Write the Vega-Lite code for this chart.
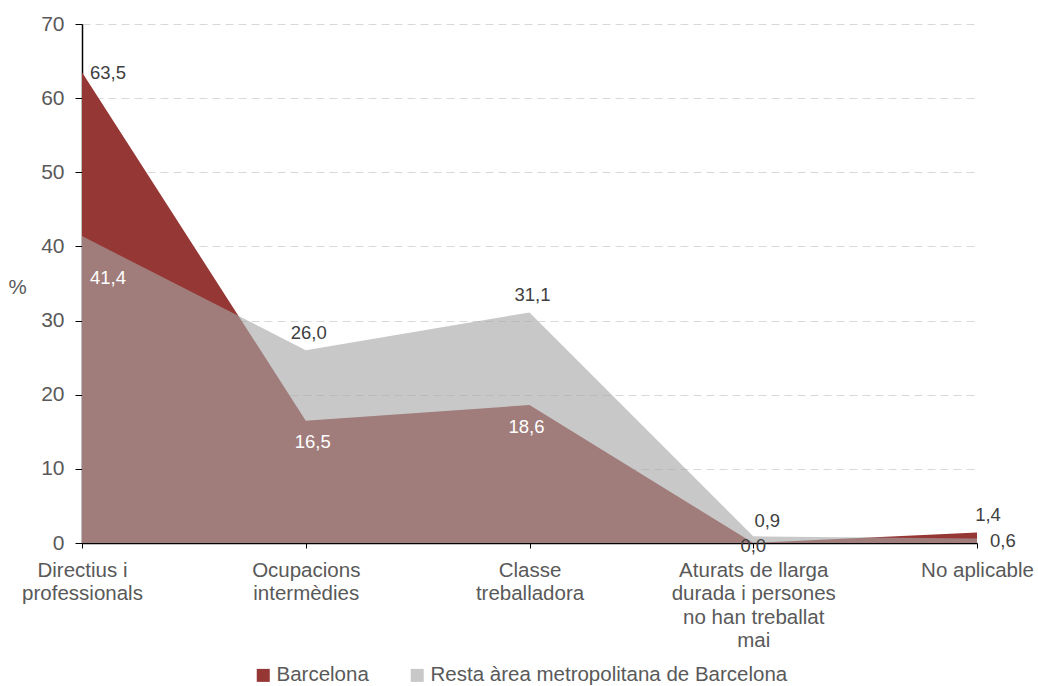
{
  "$schema": "https://vega.github.io/schema/vega-lite/v6.json",
  "width": 895,
  "height": 519,
  "autosize": {"type": "none"},
  "padding": {"left": 82, "top": 24, "right": 61, "bottom": 143},
  "config": {
    "font": "Liberation Sans",
    "view": {"stroke": null},
    "locale": {"number": {"decimal": ",", "thousands": ".", "grouping": [3], "currency": ["", " €"]}}
  },
  "data": {
    "values": [
      {"cat": "Directius i professionals", "serie": "Barcelona", "valor": 63.5},
      {"cat": "Ocupacions intermèdies", "serie": "Barcelona", "valor": 16.5},
      {"cat": "Classe treballadora", "serie": "Barcelona", "valor": 18.6},
      {"cat": "Aturats de llarga durada i persones no han treballat mai", "serie": "Barcelona", "valor": 0.0},
      {"cat": "No aplicable", "serie": "Barcelona", "valor": 1.4},
      {"cat": "Directius i professionals", "serie": "Resta àrea metropolitana de Barcelona", "valor": 41.4},
      {"cat": "Ocupacions intermèdies", "serie": "Resta àrea metropolitana de Barcelona", "valor": 26.0},
      {"cat": "Classe treballadora", "serie": "Resta àrea metropolitana de Barcelona", "valor": 31.1},
      {"cat": "Aturats de llarga durada i persones no han treballat mai", "serie": "Resta àrea metropolitana de Barcelona", "valor": 0.9},
      {"cat": "No aplicable", "serie": "Resta àrea metropolitana de Barcelona", "valor": 0.6}
    ]
  },
  "encoding": {
    "x": {
      "field": "cat", "type": "nominal", "sort": null,
      "scale": {"type": "point", "padding": 0},
      "axis": {
        "title": null, "labelAngle": 0, "labelFontSize": 20.5, "labelColor": "#595959",
        "labelLineHeight": 23.6, "labelLimit": 300, "labelOverlap": false, "labelPadding": 12,
        "domainColor": "#000000", "domainWidth": 1.5, "tickColor": "#000000", "tickSize": 5,
        "grid": false,
        "labelExpr": "datum.value == 'Directius i professionals' ? ['Directius i','professionals'] : datum.value == 'Ocupacions intermèdies' ? ['Ocupacions','intermèdies'] : datum.value == 'Classe treballadora' ? ['Classe','treballadora'] : datum.value == 'Aturats de llarga durada i persones no han treballat mai' ? ['Aturats de llarga','durada i persones','no han treballat','mai'] : datum.value"
      }
    },
    "y": {
      "field": "valor", "type": "quantitative", "stack": null,
      "scale": {"domain": [0, 70], "nice": false},
      "axis": {
        "title": "%", "titleAngle": 0, "titleFontSize": 20.5, "titleFontWeight": "normal", "titleColor": "#595959",
        "titleX": -65, "titleY": 263, "titleAlign": "center", "titleBaseline": "middle",
        "values": [0, 10, 20, 30, 40, 50, 60, 70],
        "labelFontSize": 21, "labelColor": "#595959", "labelPadding": 11,
        "domainColor": "#000000", "domainWidth": 1.5, "tickColor": "#000000", "tickSize": 7,
        "gridColor": "#D9D9D9", "gridDash": [8, 5], "gridWidth": 1
      }
    }
  },
  "layer": [
    {
      "mark": {"type": "area", "interpolate": "linear"},
      "encoding": {
        "color": {
          "field": "serie", "type": "nominal",
          "scale": {"domain": ["Barcelona", "Resta àrea metropolitana de Barcelona"], "range": ["#953735", "#A7A7A7"]},
          "legend": {
            "title": null, "orient": "none", "direction": "horizontal", "legendX": 171, "legendY": 641,
            "symbolType": "square", "symbolSize": 169, "symbolStrokeWidth": 0,
            "labelFontSize": 20.5, "labelColor": "#595959", "labelOffset": 3, "columnPadding": 38, "labelLimit": 500
          }
        },
        "opacity": {
          "field": "serie", "type": "nominal",
          "scale": {"domain": ["Barcelona", "Resta àrea metropolitana de Barcelona"], "range": [1, 0.62]},
          "legend": null
        },
        "order": {"field": "serie"}
      }
    },
    {
      "transform": [{"filter": "datum.serie == 'Barcelona' && datum.cat == 'Directius i professionals'"}],
      "mark": {"type": "text", "align": "left", "baseline": "middle", "dx": 8, "dy": 1, "fontSize": 18.5, "color": "#404040"},
      "encoding": {"text": {"field": "valor", "type": "quantitative", "format": ".1f"}}
    },
    {
      "transform": [{"filter": "datum.serie != 'Barcelona' && datum.cat == 'Directius i professionals'"}],
      "mark": {"type": "text", "align": "left", "baseline": "middle", "dx": 8, "dy": 42, "fontSize": 18.5, "color": "#FFFFFF"},
      "encoding": {"text": {"field": "valor", "type": "quantitative", "format": ".1f"}}
    },
    {
      "transform": [{"filter": "datum.serie == 'Barcelona' && datum.cat == 'Ocupacions intermèdies'"}],
      "mark": {"type": "text", "align": "center", "baseline": "middle", "dx": 7, "dy": 21, "fontSize": 18.5, "color": "#FFFFFF"},
      "encoding": {"text": {"field": "valor", "type": "quantitative", "format": ".1f"}}
    },
    {
      "transform": [{"filter": "datum.serie == 'Barcelona' && datum.cat == 'Classe treballadora'"}],
      "mark": {"type": "text", "align": "center", "baseline": "middle", "dx": -3, "dy": 22, "fontSize": 18.5, "color": "#FFFFFF"},
      "encoding": {"text": {"field": "valor", "type": "quantitative", "format": ".1f"}}
    },
    {
      "transform": [{"filter": "datum.serie == 'Barcelona' && datum.cat == 'Aturats de llarga durada i persones no han treballat mai'"}],
      "mark": {"type": "text", "align": "center", "baseline": "middle", "dx": 0, "dy": 3, "fontSize": 18.5, "color": "#404040"},
      "encoding": {"text": {"field": "valor", "type": "quantitative", "format": ".1f"}}
    },
    {
      "transform": [{"filter": "datum.serie == 'Barcelona' && datum.cat == 'No aplicable'"}],
      "mark": {"type": "text", "align": "center", "baseline": "middle", "dx": 11, "dy": -18, "fontSize": 18.5, "color": "#404040"},
      "encoding": {"text": {"field": "valor", "type": "quantitative", "format": ".1f"}}
    },
    {
      "transform": [{"filter": "datum.serie != 'Barcelona' && (datum.cat == 'Ocupacions intermèdies' || datum.cat == 'Classe treballadora')"}],
      "mark": {"type": "text", "align": "center", "baseline": "middle", "dx": 3, "dy": -17, "fontSize": 18.5, "color": "#404040"},
      "encoding": {"text": {"field": "valor", "type": "quantitative", "format": ".1f"}}
    },
    {
      "transform": [{"filter": "datum.serie != 'Barcelona' && datum.cat == 'Aturats de llarga durada i persones no han treballat mai'"}],
      "mark": {"type": "text", "align": "center", "baseline": "middle", "dx": 14, "dy": -15, "fontSize": 18.5, "color": "#404040"},
      "encoding": {"text": {"field": "valor", "type": "quantitative", "format": ".1f"}}
    },
    {
      "transform": [{"filter": "datum.serie != 'Barcelona' && datum.cat == 'No aplicable'"}],
      "mark": {"type": "text", "align": "left", "baseline": "middle", "dx": 13, "dy": 2, "fontSize": 18.5, "color": "#404040"},
      "encoding": {"text": {"field": "valor", "type": "quantitative", "format": ".1f"}}
    }
  ]
}
